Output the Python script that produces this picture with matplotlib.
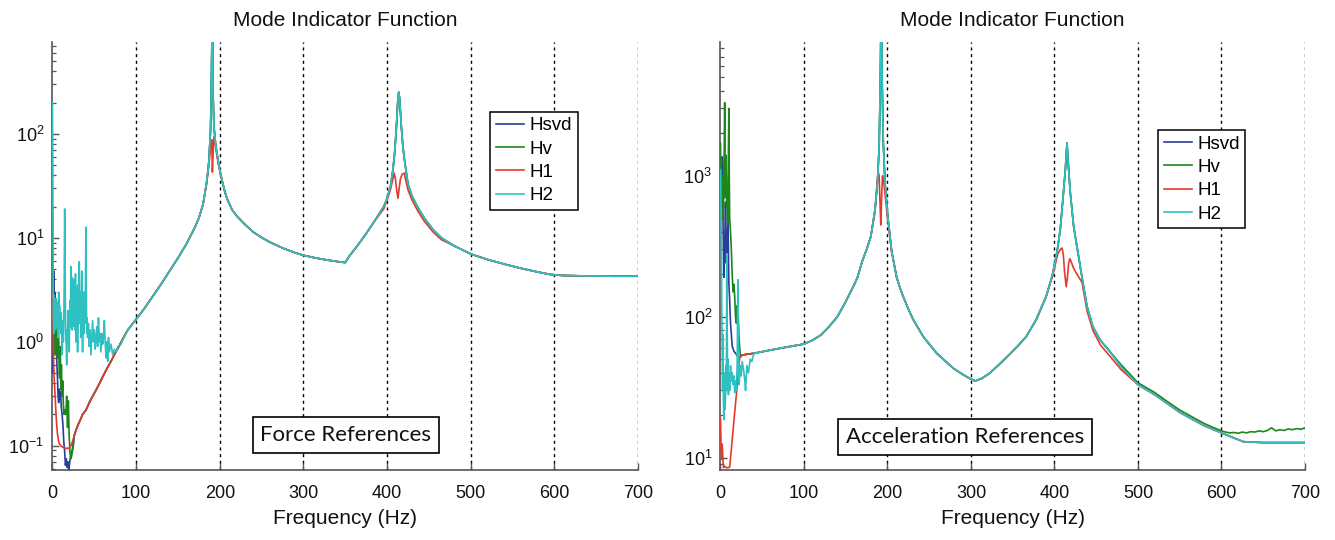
import numpy as np
import matplotlib
matplotlib.use('Agg')
import matplotlib.pyplot as plt
from matplotlib.ticker import LogLocator, NullFormatter, FixedLocator

plt.rcParams['font.family'] = ['Liberation Sans', 'DejaVu Sans']
plt.rcParams['mathtext.default'] = 'regular'

# ---------------- labels / categories ----------------
series_names = ['Hsvd', 'Hv', 'H1', 'H2']
series_colors = ['#2b3d9b', '#1c861c', '#e6392d', '#2fc1c1']
x_ticks = [0, 100, 200, 300, 400, 500, 600, 700]
titles = ['Mode Indicator Function', 'Mode Indicator Function']
box_labels = ['Force References', 'Acceleration References']
x_label = 'Frequency (Hz)'

# ---------------- LEFT panel (force references) ----------------
L_base_f = [26, 28, 30, 33, 36, 40, 45, 50, 55, 60, 65, 70, 75, 80, 85,
            90, 100, 110, 120, 130, 140, 150, 160, 170, 175, 180, 184, 186, 187, 189,
            190, 191, 192, 193, 195, 198, 200, 203, 206, 209, 215, 221, 230, 240, 250,
            260, 275, 290, 300, 315, 330, 345, 350, 355, 365, 375, 385, 396, 400, 404,
            407, 409, 411, 413, 414, 415, 417, 419, 421, 425, 430, 437, 445, 455, 465,
            480, 500, 520, 540, 560, 580, 595, 610, 640, 670, 700]
L_base_v = [0.125, 0.14, 0.155, 0.175, 0.2, 0.22, 0.27, 0.32, 0.38, 0.46, 0.55, 0.65, 0.78, 0.92, 1.1,
            1.3, 1.65, 2.1, 2.75, 3.6, 4.8, 6.4, 8.7, 12.5, 15.5, 21, 33, 45, 55, 110,
            300, 1500, 250, 120, 80, 55, 45, 35, 28, 23.5, 18.5, 16, 13.5, 11.4, 10.1,
            9.1, 8.0, 7.2, 6.8, 6.4, 6.1, 5.85, 5.8, 6.7, 8.5, 11, 14.5, 20, 24, 31,
            45, 65, 110, 220, 253, 220, 120, 75, 55, 33, 25, 19.5, 15.3, 12, 10,
            8.4, 7.0, 6.2, 5.6, 5.1, 4.7, 4.45, 4.35, 4.3, 4.28, 4.28]

L_h1_lo_f = [0, 0.3, 0.7, 1.2, 2, 3, 4, 5, 6, 7, 8, 10, 12, 14, 16, 18, 20, 22, 24]
L_h1_lo_v = [2.2, 3.0, 1.5, 0.7, 0.45, 0.32, 0.22, 0.16, 0.13, 0.115, 0.105, 0.1, 0.097,
             0.096, 0.094, 0.095, 0.094, 0.1, 0.11]
L_h1_pk1_f = [184, 186, 188, 189.5, 190.5, 191.2, 192.5, 193.5, 195, 198]
L_h1_pk1_v = [32, 43, 60, 85, 88, 43, 82, 95, 75, 53]
L_h1_pk2_f = [396, 400, 404, 407, 408.5, 410, 411.5, 413, 414.5, 416, 418, 420.5, 422, 425,
              430, 437, 445, 455, 465]
L_h1_pk2_v = [19, 23, 29, 37, 42, 37, 29, 24, 30, 37, 41, 42, 37, 29,
              23, 18, 14.3, 11.4, 9.6]

L_hv_lo_f = [0, 0.4, 0.8, 1.2, 1.8, 2.3, 3, 3.5, 4, 4.6, 5.2, 6, 6.6, 7.2, 8, 8.6, 9.3,
             10, 10.7, 11.5, 12.3, 13, 14, 15, 16, 17, 18, 19, 20, 21, 22, 23, 24, 25]
L_hv_lo_v = [20, 6, 2.5, 2.0, 1.0, 1.6, 0.75, 2.2, 0.9, 2.5, 1.1, 0.7, 2.4, 1.6, 0.5, 0.45, 0.9,
             0.35, 0.6, 0.3, 0.42, 0.25, 0.2, 0.22, 0.2, 0.3, 0.15, 0.27, 0.12, 0.085, 0.075,
             0.08, 0.09, 0.1]

L_hsvd_lo_f = [0, 0.5, 1, 1.6, 2.2, 2.8, 3.4, 4, 4.6, 5.3, 6, 6.7, 7.4, 8.2, 9, 9.7, 10.5,
               11.5, 12.5, 13.5, 14.5, 15.5, 16.5, 17.5, 18.5, 19.5, 20.5, 21.5, 22.5, 23.5, 24.5]
L_hsvd_lo_v = [0.8, 0.5, 1.5, 4.8, 1.2, 3.0, 1.8, 2.6, 0.9, 0.6, 0.45, 0.3, 0.26, 0.35, 0.28,
               0.33, 0.24, 0.2, 0.16, 0.11, 0.09, 0.065, 0.075, 0.062, 0.07, 0.057, 0.068,
               0.078, 0.085, 0.09, 0.1]

L_h2_lo_f = [0, 0.5, 1, 1.5, 2, 2.5, 3, 3.5, 4, 4.5,
             5, 5.5, 6, 6.5, 7, 7.5, 8, 8.5, 9, 9.5,
             10, 10.5, 11, 11.5, 12, 12.5, 13, 13.5, 14, 14.6,
             15.2, 15.8, 16.5, 17, 17.5, 18, 18.5, 19, 19.5, 20,
             20.5, 21, 21.5, 22, 22.5, 23, 23.5, 24, 24.5, 25,
             25.5, 26, 26.5, 27, 27.5, 28, 28.5, 29, 29.5, 30,
             30.5, 31, 31.5, 32, 32.5, 33, 33.5, 34, 34.5, 35,
             35.5, 36, 36.5, 37, 37.5, 38, 38.5, 39, 39.5, 40,
             40.5, 41, 41.5, 42, 43, 44, 45, 46, 47, 48,
             49, 50, 51, 52, 53, 54, 55, 56, 57, 58,
             59, 60, 61, 62, 63, 64, 65, 66, 67, 68,
             70, 72, 74, 76, 78, 80, 82, 85]
L_h2_lo_v = [200, 40, 1.8, 1.2, 2.8, 1.5, 2.2, 1.3, 2.6, 1.6,
             2.4, 1.4, 1.9, 1.1, 2.0, 3.0, 1.4, 2.2, 1.3, 1.7,
             1.2, 1.9, 1.4, 0.75, 1.1, 1.6, 1.0, 1.5, 3.5, 19,
             4, 1.2, 0.9, 0.6, 1.3, 0.95, 2.0, 1.2, 1.7, 0.8,
             1.5, 2.5, 1.4, 5.3, 2.2, 4.2, 1.3, 2.6, 1.5, 4,
             3, 1.4, 3.3, 1.3, 4.5, 1.0, 2.0, 1.2, 3.4, 0.8,
             1.9, 3.6, 1.5, 5.9, 2.0, 1.5, 3.0, 1.1, 2.3, 4.8,
             1.4, 0.8, 1.6, 3.0, 1.2, 1.8, 3.0, 1.5, 4.0, 12.7,
             2.5, 1.2, 1.7, 1.1, 1.5, 0.9, 1.3, 0.75, 1.1, 1.6,
             1.0, 1.3, 0.85, 1.05, 1.4, 0.9, 1.7, 1.0, 1.2, 0.8,
             1.2, 0.95, 1.1, 1.6, 1.0, 0.7, 1.0, 0.65, 1.1, 0.8,
             0.95, 0.75, 0.85, 0.8, 0.9, 0.92, 0.95, 1.08]

# ---------------- RIGHT panel (acceleration references) ----------------
R_base_f = [25, 30, 40, 50, 60, 70, 80, 90, 100, 110,
            120, 130, 140, 150, 160, 164, 170, 175, 180, 185,
            188, 190, 191.5, 192.5, 193.5, 195, 197, 200, 203, 205,
            208, 211, 215, 219, 225, 231, 243, 259, 270, 279,
            290, 298, 305, 313, 322, 334, 346, 356, 366, 378,
            384, 390, 395, 398, 401, 404, 407, 410, 413, 415,
            417, 419, 423, 427, 433, 439, 446, 455, 467, 480,
            500, 520, 534, 550, 566, 580, 600, 615, 626, 650,
            700]
R_base_v = [53, 54, 55, 56.5, 58, 59.5, 61, 62.5, 64, 68,
            74, 85, 100, 128, 168, 190, 250, 300, 370, 570,
            900, 1600, 5000, 20000, 5000, 1700, 900, 540, 370, 290,
            235, 190, 160, 138, 113, 95, 72, 55, 48, 43,
            39, 36.6, 35, 36.5, 39.6, 46, 54, 62, 72, 95,
            115, 139, 175, 203, 250, 313, 420, 672, 1100, 1710,
            1100, 750, 435, 313, 190, 118, 85, 68, 56, 44,
            33, 28, 24.5, 21, 18.6, 16.8, 15, 13.8, 13, 12.8,
            12.8]

R_h1_lo_f = [0, 0.7, 1.5, 2, 3, 3.5, 5, 7, 9, 11, 13, 15, 17, 19, 21, 23]
R_h1_lo_v = [19, 12, 9.7, 12.5, 9.7, 8.5, 8.7, 8.5, 8.5, 8.6, 11.5, 15.5, 21, 28, 38, 51]
R_h1_pk1_f = [185, 187, 188.8, 190, 191, 192, 193, 194, 195.5, 197, 200]
R_h1_pk1_v = [550, 800, 1070, 1000, 650, 447, 700, 1000, 900, 750, 500]
R_h1_pk2_f = [398, 401, 404, 407, 409, 410.5, 412, 414, 415.5, 417, 418.5, 420, 423, 427, 433,
              439, 446, 455, 467, 480]
R_h1_pk2_v = [195, 235, 280, 300, 307, 280, 210, 163, 190, 240, 258, 245, 220, 200, 175,
              110, 80, 63, 52, 42]

R_hv_lo_f = [0, 0.5, 1, 1.5, 2, 2.5, 3, 3.5, 4, 4.5, 5, 5.5, 6, 6.5, 7, 7.5, 8, 8.5, 9,
             9.5, 10, 10.5, 11, 12, 13, 14, 15, 16, 17, 18, 19, 20, 21, 22, 23, 24]
R_hv_lo_v = [1700, 900, 1300, 600, 1000, 500, 800, 600, 1200, 1500, 3300, 1200, 700, 1400,
             900, 600, 700, 450, 800, 1500, 3000, 1000, 500, 400, 300, 200, 150, 170, 140,
             100, 90, 120, 110, 75, 60, 52]
R_hv_tail_f = [480, 500, 520, 534, 550, 566, 580, 590, 600, 605, 610, 615, 620, 625, 630,
               635, 640, 645, 650, 655, 660, 665, 670, 675, 680, 685, 690, 695, 700]
R_hv_tail_v = [45.5, 34, 29, 25.3, 21.8, 19.3, 17.4, 16.4, 15.5, 15.2, 15.0, 15.1, 14.9,
               15.2, 15.0, 15.3, 15.2, 15.5, 15.3, 15.6, 16.3, 15.5, 15.8, 15.6, 16.0,
               15.8, 16.1, 15.9, 16.3]

R_hsvd_lo_f = [0, 1, 2, 3, 4, 5, 6, 7, 8, 9, 10, 11, 12, 13, 14, 16, 18, 20, 22, 24]
R_hsvd_lo_v = [1000, 700, 1360, 490, 190, 300, 650, 240, 340, 500, 175, 130, 90, 75, 62,
               57, 55, 53, 52, 52]

R_h2_lo_f = [0, 0.5, 1, 1.5, 2, 2.5, 3, 3.5, 4, 4.5, 5, 5.5, 6, 6.5, 7, 7.5, 8, 8.5, 9,
             9.5, 10, 11, 12, 13, 14, 15, 16, 17, 18, 19, 20, 20.8, 21.6, 22.4, 23.5,
             24.8, 26, 27.6, 29, 30, 31.6, 33.5, 35.5, 37.5]
R_h2_lo_v = [1100, 700, 300, 120, 60, 30, 75, 25, 18.6, 40, 37, 22, 27, 45, 30, 280, 90,
             35, 50, 28, 40, 30, 45, 35, 40, 33, 38, 29, 35, 30, 47, 183, 60, 33, 45,
             38, 48, 42, 36, 30, 45, 40, 50, 48]

LEFT_YLIM = (0.0584, 773)
RIGHT_YLIM = (8.18, 8925)


def seg(f, v, lo, hi):
    f = np.asarray(f, float)
    v = np.asarray(v, float)
    m = (f > lo) & (f < hi)
    return f[m], v[m]


def cat(*parts):
    fs = np.concatenate([np.asarray(p[0], float) for p in parts])
    vs = np.concatenate([np.asarray(p[1], float) for p in parts])
    return fs, vs


L_series = {
    'Hsvd': cat((L_hsvd_lo_f, L_hsvd_lo_v), seg(L_base_f, L_base_v, 24.9, 1e9)),
    'Hv': cat((L_hv_lo_f, L_hv_lo_v), seg(L_base_f, L_base_v, 25.5, 1e9)),
    'H1': cat((L_h1_lo_f, L_h1_lo_v), seg(L_base_f, L_base_v, 24.5, 183.9),
              (L_h1_pk1_f, L_h1_pk1_v), seg(L_base_f, L_base_v, 198.5, 395.9),
              (L_h1_pk2_f, L_h1_pk2_v), seg(L_base_f, L_base_v, 470, 1e9)),
    'H2': cat((L_h2_lo_f, L_h2_lo_v), seg(L_base_f, L_base_v, 86, 1e9)),
}
R_series = {
    'Hsvd': cat((R_hsvd_lo_f, R_hsvd_lo_v), seg(R_base_f, R_base_v, 24.5, 1e9)),
    'Hv': cat((R_hv_lo_f, R_hv_lo_v), seg(R_base_f, R_base_v, 24.5, 479),
              (R_hv_tail_f, R_hv_tail_v)),
    'H1': cat((R_h1_lo_f, R_h1_lo_v), seg(R_base_f, R_base_v, 23.5, 184.9),
              (R_h1_pk1_f, R_h1_pk1_v), seg(R_base_f, R_base_v, 200.5, 397.9),
              (R_h1_pk2_f, R_h1_pk2_v), seg(R_base_f, R_base_v, 480.5, 1e9)),
    'H2': cat((R_h2_lo_f, R_h2_lo_v), seg(R_base_f, R_base_v, 38, 1e9)),
}

fig = plt.figure(figsize=(13.35, 5.4), dpi=100)
axL = fig.add_axes([0.0393, 0.1296, 0.4386, 0.7932])
axR = fig.add_axes([0.5397, 0.1296, 0.4378, 0.7932])

spine_col = '#555555'
panels = [
    (axL, L_series, LEFT_YLIM, titles[0], box_labels[0], (0.748, 0.8366), (0.501, 0.082)),
    (axR, R_series, RIGHT_YLIM, titles[1], box_labels[1], (0.7485, 0.794), (0.419, 0.0775)),
]
for ax, series, ylim, title, blabel, leg_pos, box_pos in panels:
    for name, col in zip(series_names, series_colors):
        f, v = series[name]
        ax.plot(f, v, color=col, lw=1.2, label=name, zorder=3)
    ax.set_yscale('log')
    ax.set_xlim(0, 700)
    ax.set_ylim(*ylim)
    ax.xaxis.set_major_locator(FixedLocator(x_ticks))
    ax.yaxis.set_major_locator(LogLocator(base=10))
    ax.yaxis.set_minor_locator(LogLocator(base=10, subs=np.arange(2, 10)))
    ax.yaxis.set_minor_formatter(NullFormatter())
    for xv in x_ticks[1:]:
        ax.axvline(xv, color='black', lw=1.0, ls=(0, (2.2, 2.6)), zorder=1)
    for s in ['top', 'right']:
        ax.spines[s].set_visible(False)
    for s in ['left', 'bottom']:
        ax.spines[s].set_color(spine_col)
        ax.spines[s].set_linewidth(1.2)
    ax.tick_params(which='major', direction='in', length=5, width=1, color=spine_col,
                   labelsize=13, pad=11, labelcolor='#111111')
    ax.tick_params(which='minor', direction='in', length=3, width=0.9, color=spine_col)
    ax.tick_params(axis='y', which='major', pad=6)
    ax.set_title(title, fontsize=15, pad=11, color='#111111')
    ax.set_xlabel(x_label, fontsize=15, labelpad=5, color='#111111')
    leg = ax.legend(loc='upper left', bbox_to_anchor=leg_pos, fontsize=13.5,
                    frameon=True, fancybox=False, framealpha=1, edgecolor='black',
                    handlelength=1.5, handletextpad=0.3, labelspacing=0.33,
                    borderpad=0.3, borderaxespad=0)
    leg.get_frame().set_linewidth(1.1)
    ax.text(box_pos[0], box_pos[1], blabel, transform=ax.transAxes, ha='center',
            va='center', fontsize=16, family=['Lato', 'DejaVu Sans'], color='#111111',
            zorder=5,
            bbox=dict(boxstyle='square,pad=0.35', fc='white', ec='black', lw=1.2))

fig.savefig('out.png', dpi=100)
